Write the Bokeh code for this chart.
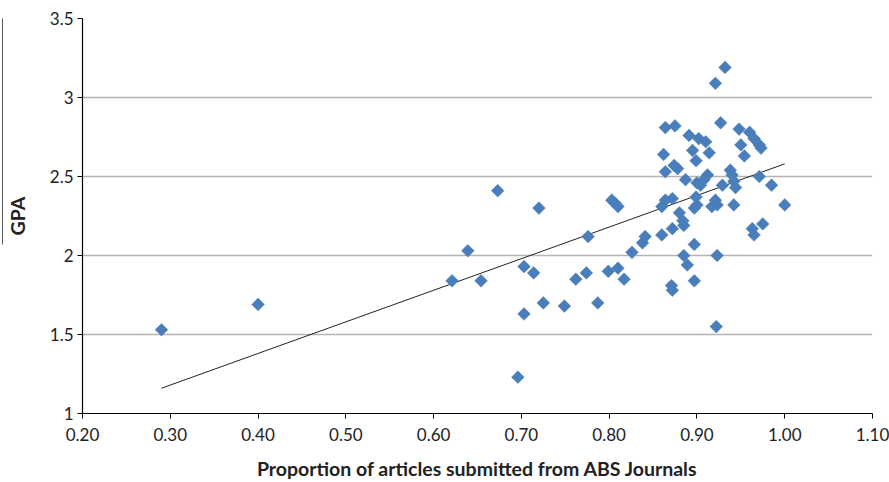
import numpy as np
from bokeh.plotting import figure
from bokeh.models import FixedTicker, NumeralTickFormatter, Range1d, LinearAxis
from bokeh.embed import file_html
from bokeh.resources import INLINE

# Proportion of articles submitted from ABS journals vs GPA
prop_abs = [0.290, 0.400, 0.621, 0.639, 0.654, 0.673, 0.696, 0.703, 0.703, 0.714,
            0.720, 0.725, 0.749, 0.762, 0.774, 0.776, 0.787, 0.799, 0.803, 0.807,
            0.810, 0.810, 0.817, 0.826, 0.838, 0.841, 0.860, 0.872, 0.885, 0.884,
            0.880, 0.897, 0.885, 0.889, 0.897, 0.871, 0.872, 0.922, 0.923, 0.963,
            0.965, 0.975, 1.000, 0.942, 0.921, 0.923, 0.917, 0.899, 0.900, 0.897,
            0.864, 0.872, 0.860, 0.929, 0.942, 0.944, 0.938, 0.940, 0.971, 0.985,
            0.900, 0.908, 0.912, 0.904, 0.887, 0.874, 0.878, 0.864, 0.862, 0.895,
            0.899, 0.914, 0.864, 0.875, 0.891, 0.902, 0.910, 0.927, 0.948, 0.960,
            0.965, 0.971, 0.973, 0.950, 0.954, 0.932, 0.921]
gpa = [1.53, 1.69, 1.84, 2.03, 1.84, 2.41, 1.23, 1.93, 1.63, 1.89,
       2.30, 1.70, 1.68, 1.85, 1.89, 2.12, 1.70, 1.90, 2.35, 2.33,
       2.31, 1.92, 1.85, 2.02, 2.08, 2.12, 2.13, 2.17, 2.19, 2.22,
       2.27, 2.07, 2.00, 1.94, 1.84, 1.81, 1.78, 1.55, 2.00, 2.17,
       2.13, 2.20, 2.32, 2.32, 2.35, 2.32, 2.31, 2.37, 2.32, 2.30,
       2.35, 2.36, 2.31, 2.445, 2.47, 2.43, 2.54, 2.51, 2.50, 2.445,
       2.46, 2.48, 2.51, 2.445, 2.48, 2.57, 2.55, 2.53, 2.64, 2.665,
       2.60, 2.65, 2.81, 2.82, 2.76, 2.74, 2.72, 2.84, 2.80, 2.78,
       2.74, 2.70, 2.68, 2.70, 2.63, 3.19, 3.09]

# Linear trendline endpoints
trend_x = [0.29, 1.00]
trend_y = [1.16, 2.58]

x_ticks = [0.2, 0.3, 0.4, 0.5, 0.6, 0.7, 0.8, 0.9, 1.0, 1.1]
y_ticks = [1.0, 1.5, 2.0, 2.5, 3.0, 3.5]

p = figure(width=889, height=482, output_backend="svg", toolbar_location=None,
           x_range=Range1d(0.2, 1.1), y_range=Range1d(1.0, 3.5),
           min_border_left=82, min_border_right=17, min_border_top=18, min_border_bottom=66)
p.outline_line_color = None
p.background_fill_color = "white"

p.xgrid.grid_line_color = None
p.ygrid.grid_line_color = "#b4b4b4"
p.ygrid.grid_line_width = 1.5

FONT = "Lato"
for ax in (p.xaxis[0], p.yaxis[0]):
    ax.axis_line_color = "black"
    ax.axis_line_width = 1.2
    ax.major_tick_line_color = "black"
    ax.major_tick_in = 0
    ax.major_tick_out = 5
    ax.minor_tick_line_color = None
    ax.major_label_text_font = FONT
    ax.major_label_text_font_size = "17px"
    ax.major_label_text_color = "#222222"
    ax.axis_label_text_font = FONT
    ax.axis_label_text_font_size = "19.5px"
    ax.axis_label_text_font_style = "bold"
    ax.axis_label_text_color = "#222222"

p.xaxis.ticker = FixedTicker(ticks=x_ticks)
p.xaxis.formatter = NumeralTickFormatter(format="0.00")
p.xaxis.major_label_standoff = 9
p.xaxis.axis_label = "Proportion of articles submitted from ABS Journals"
p.xaxis.axis_label_standoff = 13

p.yaxis.ticker = FixedTicker(ticks=y_ticks)
p.yaxis.formatter = NumeralTickFormatter(format="0.[0]")
p.yaxis.major_label_standoff = 4
p.yaxis.axis_label = "GPA"
p.yaxis.axis_label_standoff = 18

# thin rule beside the GPA title, as in the source image
rule = LinearAxis(ticker=FixedTicker(ticks=[]), bounds=(2.07, 3.5),
                  axis_line_color="#555555", axis_line_width=1,
                  major_tick_line_color=None, minor_tick_line_color=None,
                  major_label_text_alpha=0)
p.add_layout(rule, "left")

p.line(trend_x, trend_y, line_color="#222222", line_width=1)
p.scatter(prop_abs, gpa, marker="square", angle=np.pi / 4, size=9,
          fill_color="#4A7EBB", line_color="#4A7EBB", line_width=0.5)

open("out.html", "w").write(file_html(p, INLINE))
